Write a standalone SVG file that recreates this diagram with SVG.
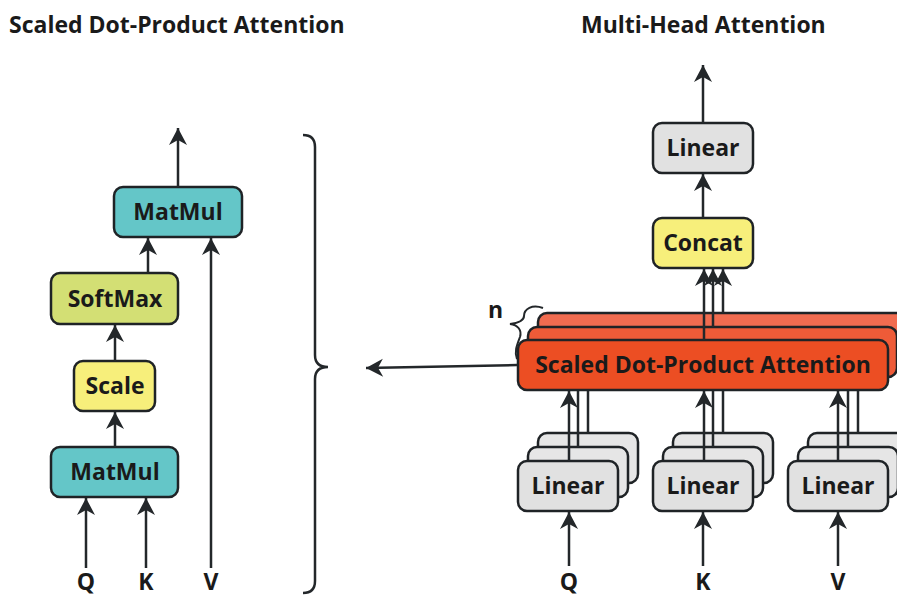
<svg xmlns="http://www.w3.org/2000/svg" width="897" height="596" viewBox="0 0 897 596">
<defs>
<marker id="ah" markerUnits="userSpaceOnUse" markerWidth="20" markerHeight="20" viewBox="-18 -10 20 20" refX="0" refY="0" orient="auto">
<path d="M0,0 L-17,-9 L-12,0 L-17,9 Z" fill="#23272a"/>
</marker>
<style>
text{font-family:"Open Sans","Noto Sans","Liberation Sans",sans-serif;font-weight:700;fill:#1a1a1a}
.t{font-size:23px}
.lbl{font-size:23px;text-anchor:middle}
.box{stroke:#1f2326;stroke-width:2.5}
.teal{fill:#64C6C8}
.green{fill:#D3DF74}
.yellow{fill:#F7EF7B}
.gray{fill:#E1E1E1}
.gray2{fill:#E6E6E6}
.red1{fill:#EC4E23}
.red2{fill:#EE5B38}
.red3{fill:#F16C50}
.c{stroke:#23272a;stroke-width:2.5;fill:none}
.ca{stroke:#23272a;stroke-width:2.5;fill:none;marker-end:url(#ah)}
</style>
</defs>
<rect width="897" height="596" fill="#ffffff"/>

<text class="t" x="9" y="33">Scaled Dot-Product Attention</text>
<text class="t" x="581" y="33">Multi-Head Attention</text>

<!-- Left: scaled dot-product attention -->
<g id="matmul-top"><rect class="box teal" x="114" y="187" width="128" height="50" rx="9"/><text class="lbl" x="178" y="220">MatMul</text></g>
<g id="softmax"><rect class="box green" x="51" y="273" width="127" height="51" rx="9"/><text class="lbl" x="115" y="307">SoftMax</text></g>
<g id="scale"><rect class="box yellow" x="74" y="361" width="81" height="50" rx="9"/><text class="lbl" x="115" y="394">Scale</text></g>
<g id="matmul-bottom"><rect class="box teal" x="51" y="447" width="127" height="50" rx="9"/><text class="lbl" x="115" y="480">MatMul</text></g>
<g id="in-q-left"><text class="lbl" x="86" y="590">Q</text></g>
<g id="in-k-left"><text class="lbl" x="146" y="590">K</text></g>
<g id="in-v-left"><text class="lbl" x="211" y="590">V</text></g>

<g id="brace-big"><path class="c" d="M303,135 Q315,135 315,147 L315,355 Q315,367 328,367 Q315,367 315,379 L315,581 Q315,593 303,593"/></g>

<!-- Right: multi-head attention -->
<g id="linear-out"><rect class="box gray" x="653" y="123" width="100" height="50" rx="9"/><text class="lbl" x="703" y="156">Linear</text></g>
<g id="concat"><rect class="box yellow" x="653" y="218" width="100" height="50" rx="9"/><text class="lbl" x="703" y="251">Concat</text></g>

<g id="sdpa-stack">
<rect class="box red3" x="538" y="313" width="370" height="50" rx="9"/>
<rect class="box red2" x="528" y="327" width="369" height="50" rx="9"/>
<rect class="box red1" x="518" y="340" width="370" height="50" rx="9"/>
<text class="lbl" x="703" y="373">Scaled Dot-Product Attention</text>
</g>
<g id="n-label"><text x="488" y="318" style="font-size:23px">n</text>
<path class="c" style="stroke-width:2" d="M543,308 C532,304 524,309 524,316 C524,321 518,323 510,324 C518,325 522,330 520,337 C517,345 514,352 517,359"/></g>

<g id="linear-q">
<rect class="box gray2" x="538" y="433" width="100" height="50" rx="9"/>
<rect class="box gray2" x="528" y="447" width="100" height="50" rx="9"/>
<rect class="box gray" x="518" y="461" width="100" height="50" rx="9"/>
<text class="lbl" x="568" y="494">Linear</text>
</g>
<g id="linear-k">
<rect class="box gray2" x="673" y="433" width="100" height="50" rx="9"/>
<rect class="box gray2" x="663" y="447" width="100" height="50" rx="9"/>
<rect class="box gray" x="653" y="461" width="100" height="50" rx="9"/>
<text class="lbl" x="703" y="494">Linear</text>
</g>
<g id="linear-v">
<rect class="box gray2" x="808" y="433" width="100" height="50" rx="9"/>
<rect class="box gray2" x="798" y="447" width="100" height="50" rx="9"/>
<rect class="box gray" x="788" y="461" width="100" height="50" rx="9"/>
<text class="lbl" x="838" y="494">Linear</text>
</g>
<g id="in-q"><text class="lbl" x="569" y="590">Q</text></g>
<g id="in-k"><text class="lbl" x="703" y="590">K</text></g>
<g id="in-v"><text class="lbl" x="838" y="590">V</text></g>

<g id="connectors">
<!-- left -->
<line class="ca" x1="178" y1="187" x2="178" y2="128"/>
<line class="ca" x1="148" y1="273" x2="148" y2="238"/>
<line class="ca" x1="115" y1="361" x2="115" y2="325"/>
<line class="ca" x1="115" y1="447" x2="115" y2="412"/>
<line class="ca" x1="86" y1="568" x2="86" y2="498"/>
<line class="ca" x1="146" y1="568" x2="146" y2="498"/>
<line class="ca" x1="211" y1="568" x2="211" y2="238"/>
<!-- right -->
<line class="ca" x1="703" y1="123" x2="703" y2="65"/>
<line class="ca" x1="703" y1="218" x2="703" y2="174"/>
<line class="ca" x1="723" y1="313" x2="723" y2="269"/>
<line class="ca" x1="713" y1="327" x2="713" y2="269"/>
<line class="ca" x1="704" y1="340" x2="704" y2="269"/>
<line class="ca" x1="517" y1="365" x2="366" y2="368"/>
<!-- Q -->
<line class="c" x1="588" y1="433" x2="588" y2="391"/>
<line class="c" x1="578" y1="447" x2="578" y2="391"/>
<line class="ca" x1="569" y1="461" x2="569" y2="391"/>
<line class="ca" x1="569" y1="566" x2="569" y2="512"/>
<!-- K -->
<line class="c" x1="723" y1="433" x2="723" y2="391"/>
<line class="c" x1="713" y1="447" x2="713" y2="391"/>
<line class="ca" x1="704" y1="461" x2="704" y2="391"/>
<line class="ca" x1="703" y1="566" x2="703" y2="512"/>
<!-- V -->
<line class="c" x1="858" y1="433" x2="858" y2="391"/>
<line class="c" x1="848" y1="447" x2="848" y2="391"/>
<line class="ca" x1="838" y1="461" x2="838" y2="391"/>
<line class="ca" x1="838" y1="566" x2="838" y2="512"/>
</g>
</svg>
